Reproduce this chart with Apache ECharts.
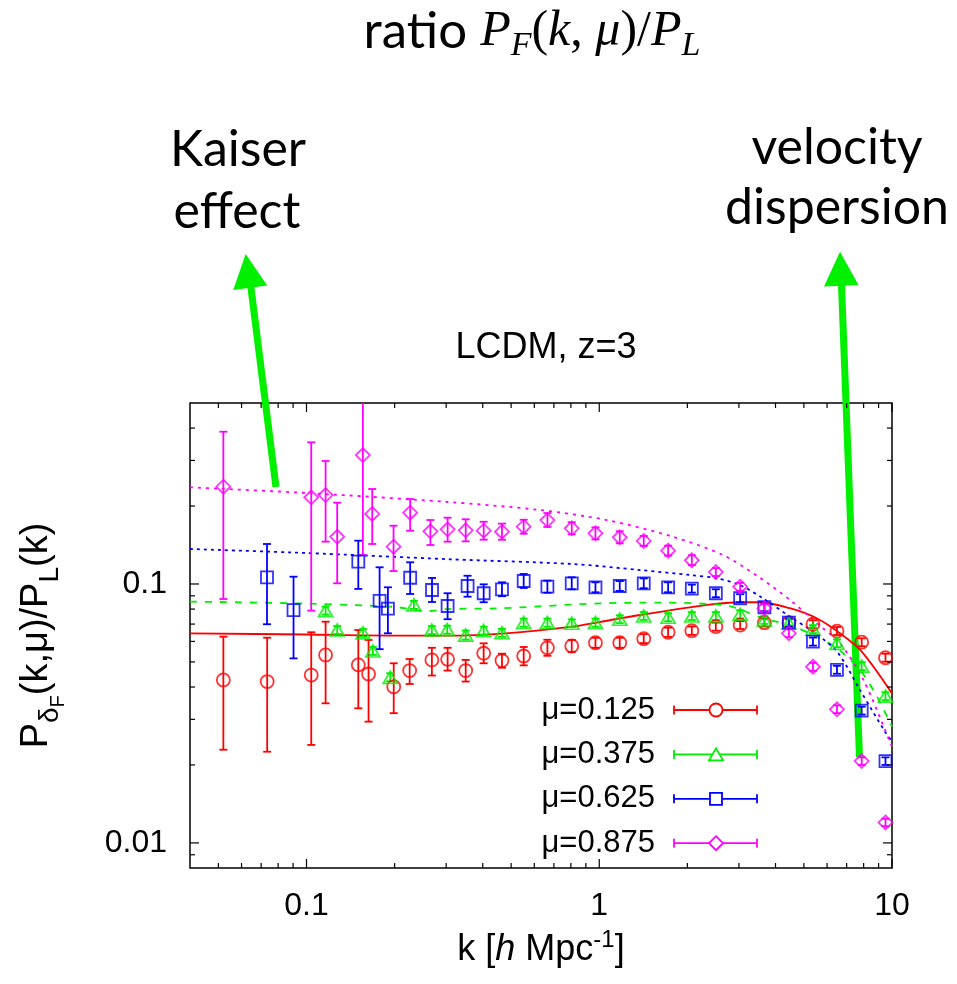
<!DOCTYPE html>
<html><head><meta charset="utf-8">
<script src="https://cdn.jsdelivr.net/npm/echarts@6/dist/echarts.min.js"></script>
<style>html,body{margin:0;padding:0;background:#fff}#c{width:957px;height:984px}</style>
</head><body><div id="c"></div><script>
// ---------------- data ----------------
const legendLabels = ['μ=0.125', 'μ=0.375', 'μ=0.625', 'μ=0.875'];

// mu = 0.125 (red circles)
const kRed  = [0.052, 0.0734, 0.1038, 0.1162, 0.1503, 0.1629, 0.1986, 0.2251, 0.2681, 0.3034, 0.3498, 0.4029, 0.4653, 0.5519, 0.6651, 0.8054, 0.9706, 1.175, 1.419, 1.719, 2.071, 2.502, 3.029, 3.666, 4.445, 5.370, 6.486, 7.878, 9.501];
const pRed  = [0.0426, 0.0420, 0.0445, 0.0532, 0.0487, 0.0449, 0.0401, 0.0463, 0.0509, 0.0512, 0.0463, 0.0540, 0.0506, 0.0527, 0.0567, 0.0576, 0.0593, 0.0593, 0.0615, 0.0651, 0.0660, 0.0684, 0.0694, 0.0709, 0.0709, 0.0699, 0.0658, 0.0596, 0.0519];
const loRed = [0.0229, 0.0225, 0.0239, 0.0346, 0.0331, 0.0294, 0.0317, 0.0411, 0.0443, 0.0463, 0.0420, 0.0494, 0.0475, 0.0485, 0.0528, 0.0546, 0.0567, 0.0567, 0.0591, 0.0625, 0.0636, 0.0660, 0.0670, 0.0685, 0.0685, 0.0675, 0.0635, 0.0575, 0.0501];
const hiRed = [0.0626, 0.0620, 0.0651, 0.0715, 0.0664, 0.0608, 0.0494, 0.0513, 0.0567, 0.0567, 0.0509, 0.0590, 0.0538, 0.0571, 0.0609, 0.0608, 0.0620, 0.0620, 0.0640, 0.0678, 0.0685, 0.0709, 0.0719, 0.0734, 0.0734, 0.0724, 0.0682, 0.0617, 0.0538];

// mu = 0.375 (green triangles)
const kGreen  = [0.1162, 0.1273, 0.156, 0.1685, 0.1932, 0.2327, 0.268, 0.3025, 0.3498, 0.4029, 0.4653, 0.5519, 0.6651, 0.8054, 0.9706, 1.175, 1.419, 1.719, 2.071, 2.502, 3.029, 3.666, 4.445, 5.370, 6.486, 7.878, 9.501];
const pGreen  = [0.0789, 0.0664, 0.0647, 0.0551, 0.0436, 0.0830, 0.0664, 0.0666, 0.0635, 0.0660, 0.0648, 0.0709, 0.0709, 0.0705, 0.0709, 0.0731, 0.0752, 0.0744, 0.0752, 0.0752, 0.0764, 0.0726, 0.0705, 0.0669, 0.0590, 0.0482, 0.0369];
const loGreen = [0.0762, 0.0641, 0.0625, 0.0532, 0.0421, 0.0801, 0.0641, 0.0643, 0.0610, 0.0637, 0.0625, 0.0684, 0.0684, 0.0681, 0.0684, 0.0706, 0.0726, 0.0718, 0.0726, 0.0726, 0.0737, 0.0701, 0.0681, 0.0646, 0.0570, 0.0465, 0.0356];
const hiGreen = [0.0817, 0.0688, 0.0670, 0.0571, 0.0452, 0.0860, 0.0688, 0.0690, 0.0661, 0.0684, 0.0671, 0.0735, 0.0735, 0.0730, 0.0735, 0.0757, 0.0779, 0.0771, 0.0779, 0.0779, 0.0792, 0.0752, 0.0730, 0.0693, 0.0611, 0.0499, 0.0382];

// mu = 0.625 (blue squares)
const kBlue  = [0.0733, 0.0903, 0.1503, 0.1777, 0.1897, 0.226, 0.2684, 0.3034, 0.355, 0.4029, 0.4653, 0.5519, 0.6651, 0.8054, 0.9706, 1.175, 1.419, 1.719, 2.071, 2.502, 3.029, 3.666, 4.445, 5.370, 6.486, 7.878, 9.501];
const pBlue  = [0.1061, 0.0792, 0.1219, 0.0860, 0.0803, 0.1057, 0.0948, 0.0822, 0.0982, 0.0921, 0.0954, 0.1027, 0.0976, 0.1006, 0.0971, 0.0982, 0.1006, 0.0971, 0.0959, 0.0921, 0.0881, 0.0813, 0.0709, 0.0599, 0.0466, 0.0324, 0.0207];
const loBlue = [0.0699, 0.0516, 0.0957, 0.0560, 0.0645, 0.0915, 0.0852, 0.0731, 0.0893, 0.0850, 0.0897, 0.0965, 0.0925, 0.0954, 0.0929, 0.0940, 0.0963, 0.0929, 0.0926, 0.0889, 0.0850, 0.0785, 0.0684, 0.0578, 0.0450, 0.0313, 0.0200];
const hiBlue = [0.1427, 0.1067, 0.1470, 0.1160, 0.0971, 0.1213, 0.1055, 0.0921, 0.1076, 0.0997, 0.1015, 0.1093, 0.1030, 0.1061, 0.1015, 0.1026, 0.1051, 0.1015, 0.0994, 0.0954, 0.0913, 0.0842, 0.0735, 0.0621, 0.0483, 0.0336, 0.0214];

// mu = 0.875 (magenta diamonds)
const kMag  = [0.052, 0.1038, 0.1162, 0.1273, 0.1558, 0.1677, 0.1983, 0.226, 0.265, 0.3034, 0.3498, 0.4029, 0.4653, 0.5519, 0.6651, 0.8054, 0.9706, 1.175, 1.419, 1.719, 2.071, 2.502, 3.029, 3.666, 4.445, 5.370, 6.486, 7.878, 9.501];
const pMag  = [0.2375, 0.2162, 0.2206, 0.1522, 0.3148, 0.1864, 0.1393, 0.1885, 0.1598, 0.1626, 0.1612, 0.1606, 0.1592, 0.1664, 0.1766, 0.1641, 0.1569, 0.1515, 0.1466, 0.1345, 0.1235, 0.1112, 0.0976, 0.0806, 0.0645, 0.0479, 0.0328, 0.0207, 0.0120];
const loMag = [0.0875, 0.0789, 0.1457, 0.1006, 0.1294, 0.1427, 0.1122, 0.1606, 0.1414, 0.1457, 0.1461, 0.1483, 0.1482, 0.1564, 0.1660, 0.1555, 0.1487, 0.1436, 0.1403, 0.1287, 0.1182, 0.1073, 0.0942, 0.0778, 0.0623, 0.0462, 0.0317, 0.0200, 0.0116];
const hiMag = [0.3873, 0.3525, 0.2985, 0.2060, 0.6000, 0.2327, 0.1679, 0.2129, 0.1766, 0.1803, 0.1778, 0.1739, 0.1710, 0.1770, 0.1879, 0.1731, 0.1655, 0.1598, 0.1532, 0.1406, 0.1291, 0.1152, 0.1011, 0.0835, 0.0668, 0.0496, 0.0340, 0.0214, 0.0124];

// model curves
const mkRed   = [0.04, 0.1, 0.2, 0.3, 0.48, 0.81, 1.0, 1.38, 2.34, 3.02, 3.54, 4.48, 5.53, 6.64, 7.88, 10];
const mvRed   = [0.0645, 0.0638, 0.0632, 0.0632, 0.0645, 0.0684, 0.0713, 0.0759, 0.0830, 0.0850, 0.0850, 0.0806, 0.0737, 0.0645, 0.0548, 0.0378];
const mkGreen = [0.04, 0.1, 0.2, 0.26, 0.3, 0.45, 1.008, 1.648, 2.644, 3.02, 3.62, 4.48, 5.37, 6.49, 7.77, 8.89, 10];
const mvGreen = [0.0855, 0.0840, 0.0815, 0.0785, 0.0800, 0.0805, 0.0842, 0.0847, 0.0830, 0.0799, 0.0737, 0.0694, 0.0635, 0.0564, 0.0466, 0.0367, 0.0281];
const mkBlue  = [0.04, 0.1, 0.308, 0.812, 1.381, 2.039, 2.52, 3.02, 3.62, 4.48, 5.37, 6.49, 7.77, 9.54, 10];
const mvBlue  = [0.1365, 0.1317, 0.1246, 0.1194, 0.1132, 0.1083, 0.1052, 0.0991, 0.0881, 0.0748, 0.0654, 0.0548, 0.0390, 0.0265, 0.0247];
const mkMag   = [0.04, 0.1, 0.296, 0.626, 1.06, 1.784, 2.644, 3.495, 4.48, 5.54, 6.64, 7.99, 9.88, 10];
const mvMag   = [0.2362, 0.2246, 0.2078, 0.1931, 0.1766, 0.1522, 0.1294, 0.1067, 0.0868, 0.0705, 0.0590, 0.0426, 0.0243, 0.0236];

// axes / ticks
const xMin = 0.04, xMax = 10, yMin = 0.008, yMax = 0.5;
const xMajorTicks = [0.1, 1, 10];
const xTickLabels = ['0.1', '1', '10'];
const xMinorTicks = [0.05, 0.06, 0.07, 0.08, 0.09, 0.2, 0.3, 0.4, 0.5, 0.6, 0.7, 0.8, 0.9, 2, 3, 4, 5, 6, 7, 8, 9];
const yMajorTicks = [0.01, 0.1];
const yTickLabels = ['0.01', '0.1'];
const yMinorTicks = [0.009, 0.02, 0.03, 0.04, 0.05, 0.06, 0.07, 0.08, 0.09, 0.2, 0.3, 0.4];

// ---------------- chart ----------------
const colors = ['#ff0000', '#00ee00', '#0000ff', '#ff00ff'];
const groups = [
  {k: kRed, p: pRed, lo: loRed, hi: hiRed, mk: mkRed, mv: mvRed, symbol: 'circle', size: 13, dash: 'solid'},
  {k: kGreen, p: pGreen, lo: loGreen, hi: hiGreen, mk: mkGreen, mv: mvGreen, symbol: 'triangle', size: [14, 12], dash: [7, 8]},
  {k: kBlue, p: pBlue, lo: loBlue, hi: hiBlue, mk: mkBlue, mv: mvBlue, symbol: 'rect', size: 12, dash: [3, 4]},
  {k: kMag, p: pMag, lo: loMag, hi: hiMag, mk: mkMag, mv: mvMag, symbol: 'diamond', size: [14, 14], dash: [3, 5]}
];

function errRender(color) {
  return function (params, api) {
    const a = api.coord([api.value(0), api.value(1)]);
    const b = api.coord([api.value(0), api.value(2)]);
    const st = {stroke: color, lineWidth: 1.8, fill: null};
    return {type: 'group', children: [
      {type: 'line', shape: {x1: a[0], y1: a[1], x2: b[0], y2: b[1]}, style: st},
      {type: 'line', shape: {x1: a[0] - 4, y1: a[1], x2: a[0] + 4, y2: a[1]}, style: st},
      {type: 'line', shape: {x1: b[0] - 4, y1: b[1], x2: b[0] + 4, y2: b[1]}, style: st}
    ]};
  };
}

const series = [];
groups.forEach((g, i) => {
  const c = colors[i];
  series.push({type: 'line', name: legendLabels[i] + ' model', data: g.mk.map((k, j) => [k, g.mv[j]]),
    showSymbol: false, smooth: 0.3, clip: true, silent: true, z: 2,
    lineStyle: {color: c, width: 1.8, type: g.dash}});
  series.push({type: 'custom', name: legendLabels[i] + ' err', data: g.k.map((k, j) => [k, g.lo[j], g.hi[j]]),
    encode: {x: 0, y: [1, 2]}, clip: true, silent: true, z: 3, renderItem: errRender(c)});
  series.push({type: 'scatter', name: legendLabels[i], data: g.k.map((k, j) => [k, g.p[j]]),
    symbol: g.symbol, symbolSize: g.size, silent: true, z: 4,
    itemStyle: {color: 'rgba(0,0,0,0)', borderColor: c, borderWidth: 1.8}});
});

// frame ticks (major + minor, mirrored on all four sides)
const tickData = [];
xMajorTicks.forEach(v => tickData.push([v, 0.1, 0, 9]));
xMinorTicks.forEach(v => tickData.push([v, 0.1, 0, 5]));
yMajorTicks.forEach(v => tickData.push([1, v, 1, 9]));
yMinorTicks.forEach(v => tickData.push([1, v, 1, 5]));
series.push({type: 'custom', name: 'ticks', data: tickData, encode: {x: 0, y: 1}, silent: true, z: 5,
  renderItem: function (params, api) {
    const cs = params.coordSys;
    const p = api.coord([api.value(0), api.value(1)]);
    const len = api.value(3);
    const st = {stroke: '#000', lineWidth: 1.2};
    if (api.value(2) === 0) {
      return {type: 'group', children: [
        {type: 'line', shape: {x1: p[0], y1: cs.y + cs.height, x2: p[0], y2: cs.y + cs.height - len}, style: st},
        {type: 'line', shape: {x1: p[0], y1: cs.y, x2: p[0], y2: cs.y + len}, style: st}]};
    }
    return {type: 'group', children: [
      {type: 'line', shape: {x1: cs.x, y1: p[1], x2: cs.x + len, y2: p[1]}, style: st},
      {type: 'line', shape: {x1: cs.x + cs.width, y1: p[1], x2: cs.x + cs.width - len, y2: p[1]}, style: st}]};
  }});

function labelFrom(ticks, labels) {
  return v => { const i = ticks.findIndex(t => Math.abs(t - v) / t < 1e-6); return i >= 0 ? labels[i] : ''; };
}

// legend drawn gnuplot-style
const graphics = [];
const legX0 = 674, legX1 = 757, legXm = 716, legTextX = 655, legY0 = 710, legDy = 44.4;
legendLabels.forEach((lab, i) => {
  const y = legY0 + i * legDy, c = colors[i];
  const st = {stroke: c, lineWidth: 1.8, fill: null};
  graphics.push({type: 'text', style: {text: lab, x: legTextX, y: y, textAlign: 'right', textVerticalAlign: 'middle',
    font: '31px "Liberation Sans", Arial, sans-serif', fill: '#000'}});
  graphics.push({type: 'line', shape: {x1: legX0, y1: y, x2: legX1, y2: y}, style: st});
  graphics.push({type: 'line', shape: {x1: legX0, y1: y - 4.5, x2: legX0, y2: y + 4.5}, style: st});
  graphics.push({type: 'line', shape: {x1: legX1, y1: y - 4.5, x2: legX1, y2: y + 4.5}, style: st});
  const ms = {stroke: c, lineWidth: 1.8, fill: '#fff'};
  if (i === 0) graphics.push({type: 'circle', shape: {cx: legXm, cy: y, r: 6.5}, style: ms});
  if (i === 1) graphics.push({type: 'polygon', shape: {points: [[legXm, y - 6], [legXm - 7, y + 6], [legXm + 7, y + 6]]}, style: ms});
  if (i === 2) graphics.push({type: 'rect', shape: {x: legXm - 6, y: y - 6, width: 12, height: 12}, style: ms});
  if (i === 3) graphics.push({type: 'polygon', shape: {points: [[legXm, y - 7], [legXm + 7, y], [legXm, y + 7], [legXm - 7, y]]}, style: ms});
});

// annotation arrows
const green = '#00f000';
graphics.push({type: 'line', shape: {x1: 276, y1: 487, x2: 250.5, y2: 284}, style: {stroke: green, lineWidth: 7}});
graphics.push({type: 'polygon', shape: {points: [[245.7, 254], [233.2, 290], [267.2, 285.5]]}, style: {fill: green}});
graphics.push({type: 'line', shape: {x1: 859.5, y1: 757, x2: 841.4, y2: 282}, style: {stroke: green, lineWidth: 7}});
graphics.push({type: 'polygon', shape: {points: [[840, 251.7], [824, 286.4], [858.5, 285]]}, style: {fill: green}});

const annFont = '50px Lato, "Open Sans", sans-serif';
graphics.push({type: 'text', style: {text: 'Kaiser', x: 238, y: 150, textAlign: 'center', textVerticalAlign: 'middle', font: annFont, fill: '#000'}});
graphics.push({type: 'text', style: {text: 'effect', x: 237, y: 212, textAlign: 'center', textVerticalAlign: 'middle', font: annFont, fill: '#000'}});
graphics.push({type: 'text', style: {text: 'velocity', x: 837, y: 148, textAlign: 'center', textVerticalAlign: 'middle', font: annFont, fill: '#000'}});
graphics.push({type: 'text', style: {text: 'dispersion', x: 837, y: 208, textAlign: 'center', textVerticalAlign: 'middle', font: annFont, fill: '#000'}});

// page title with math
const serif = '"Liberation Serif", "DejaVu Serif", serif';
graphics.push({type: 'text', style: {
  text: '{r|ratio }{m|P}{s|F}{u|(}{m|k}{u|, }{m|μ}{u|)/}{m|P}{s|L}',
  x: 532, y: 63, textAlign: 'center', textVerticalAlign: 'bottom', fill: '#000',
  rich: {
    r: {fontFamily: 'Lato, "Open Sans", sans-serif', fontSize: 51, lineHeight: 54, verticalAlign: 'bottom', padding: [0, 0, 6, 0]},
    m: {fontFamily: serif, fontStyle: 'italic', fontSize: 50, lineHeight: 54, verticalAlign: 'bottom', padding: [0, 0, 6, 0]},
    u: {fontFamily: serif, fontSize: 50, lineHeight: 54, verticalAlign: 'bottom', padding: [0, 0, 6, 0]},
    s: {fontFamily: serif, fontStyle: 'italic', fontSize: 34, lineHeight: 36, verticalAlign: 'bottom', padding: [0, 0, 0, 0]}
  }}});

const sans = '"Liberation Sans", Arial, Helvetica, sans-serif';
const option = {
  backgroundColor: '#fff',
  animation: false,
  title: {text: 'LCDM, z=3', left: 541, top: 325, textAlign: 'center',
    textStyle: {fontFamily: sans, fontSize: 36, fontWeight: 'normal', color: '#000'}},
  grid: {left: 190, top: 403, right: 65, bottom: 116, show: true, borderColor: '#000', borderWidth: 1.5,
    backgroundColor: 'rgba(0,0,0,0)', containLabel: false, outerBoundsMode: 'none'},
  xAxis: {type: 'log', logBase: 10, min: xMin, max: xMax,
    axisLine: {show: false}, axisTick: {show: false}, splitLine: {show: false}, minorTick: {show: false},
    axisLabel: {formatter: labelFrom(xMajorTicks, xTickLabels), margin: 22, fontFamily: sans, fontSize: 32, color: '#000',
      showMinLabel: true, showMaxLabel: true, hideOverlap: false},
    name: '{t|k [}{i|h}{t| Mpc}{p|-1}{t|]}', nameLocation: 'middle', nameGap: 62,
    nameTextStyle: {color: '#000', rich: {
      t: {fontFamily: sans, fontSize: 36, lineHeight: 38, verticalAlign: 'bottom', padding: [0, 0, 0, 0]},
      i: {fontFamily: sans, fontStyle: 'italic', fontSize: 36, lineHeight: 38, verticalAlign: 'bottom', padding: [0, 0, 0, 0]},
      p: {fontFamily: sans, fontSize: 24, lineHeight: 26, verticalAlign: 'bottom', padding: [0, 0, 16, 0]}
    }}},
  yAxis: {type: 'log', logBase: 10, min: yMin, max: yMax,
    axisLine: {show: false}, axisTick: {show: false}, splitLine: {show: false}, minorTick: {show: false},
    axisLabel: {formatter: labelFrom(yMajorTicks, yTickLabels), margin: 23, fontFamily: sans, fontSize: 32, color: '#000',
      showMinLabel: true, showMaxLabel: true, hideOverlap: false},
    name: '{t|P}{s|δ}{f|F}{t|(k,μ)/P}{s|L}{t|(k)}', nameLocation: 'middle', nameGap: 122,
    nameTextStyle: {color: '#000', rich: {
      t: {fontFamily: sans, fontSize: 38, lineHeight: 40, verticalAlign: 'bottom', padding: [0, 0, 12, 0]},
      s: {fontFamily: sans, fontSize: 28, lineHeight: 30, verticalAlign: 'bottom', padding: [0, 0, 4, 0]},
      f: {fontFamily: sans, fontSize: 20, lineHeight: 22, verticalAlign: 'bottom', padding: [0, 0, 0, 0]}
    }}},
  series: series,
  graphic: {elements: graphics}
};

const chart = echarts.init(document.getElementById('c'), null, {renderer: 'canvas'});
chart.setOption(option);
</script></body></html>
